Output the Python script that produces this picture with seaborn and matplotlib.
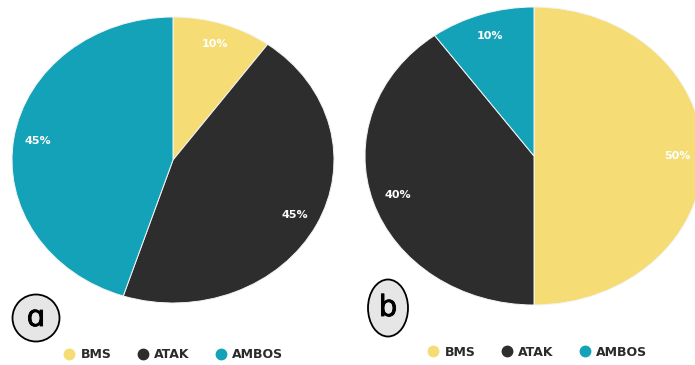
import numpy as np
import pandas as pd
import matplotlib.pyplot as plt
import matplotlib.patches as mpatches
import matplotlib.patheffects as pe
from matplotlib.lines import Line2D
import seaborn as sns

# data
categories = ['BMS', 'ATAK', 'AMBOS']
share_a = [10, 45, 45]
share_b = [50, 40, 10]
panel_tags = ['\u0251', 'b']

sns.set_theme(style='white')
plt.rcParams['font.family'] = ['DejaVu Sans']
colors = sns.color_palette(['#F5DC74', '#2D2D2E', '#14A2B8'])

fig = plt.figure(figsize=(6.95, 3.65), dpi=100)
fig.patch.set_facecolor('white')

W, H = 695.0, 365.0

def px_axes(x0, y0, x1, y1):
    # pixel box (top-left origin) -> axes
    return fig.add_axes([x0 / W, 1 - y1 / H, (x1 - x0) / W, (y1 - y0) / H])

ax_a = px_axes(12, 17, 334, 303)
ax_b = px_axes(365, 7, 703, 305)

for ax, vals in [(ax_a, share_a), (ax_b, share_b)]:
    wedges, texts, autotexts = ax.pie(
        vals, colors=colors, startangle=90, counterclock=False,
        autopct='%d%%', pctdistance=0.85,
        wedgeprops=dict(edgecolor='#f4f4f4', linewidth=0.7),
        textprops=dict(color='white', fontweight='bold', fontsize=8))
    ax.set_aspect('auto')
    ax.set_xlim(-1, 1)
    ax.set_ylim(-1, 1)
    ax.axis('off')

# legends under each pie
handles = [Line2D([0], [0], marker='o', linestyle='', markersize=7.5,
                  markerfacecolor=c, markeredgecolor=c) for c in colors]
for ax, cx, cy in [(ax_a, 173, 355), (ax_b, 537, 352)]:
    ax.legend(handles, categories, loc='center', ncol=3, frameon=False,
              bbox_to_anchor=(cx / W, 1 - cy / H), bbox_transform=fig.transFigure,
              handlelength=1.0, handletextpad=0.4, columnspacing=2.0,
              prop=dict(weight='bold', size=9), labelcolor='#2a2a2a')

# hand-drawn style panel tags
for tag, (cx, cy, w, h) in zip(panel_tags, [(36, 318, 47, 47), (388, 308, 40, 57)]):
    fig.add_artist(mpatches.Ellipse((cx / W, 1 - cy / H), w / W, h / H,
                                    transform=fig.transFigure, facecolor='#e6e6e6',
                                    edgecolor='black', linewidth=1.3))
    t = fig.text(cx / W, 1 - cy / H, tag, ha='center', va='center',
                 fontsize=21, color='black')
    t.set_path_effects([pe.withStroke(linewidth=0.6, foreground='black')])

fig.savefig('out.png', dpi=100)
